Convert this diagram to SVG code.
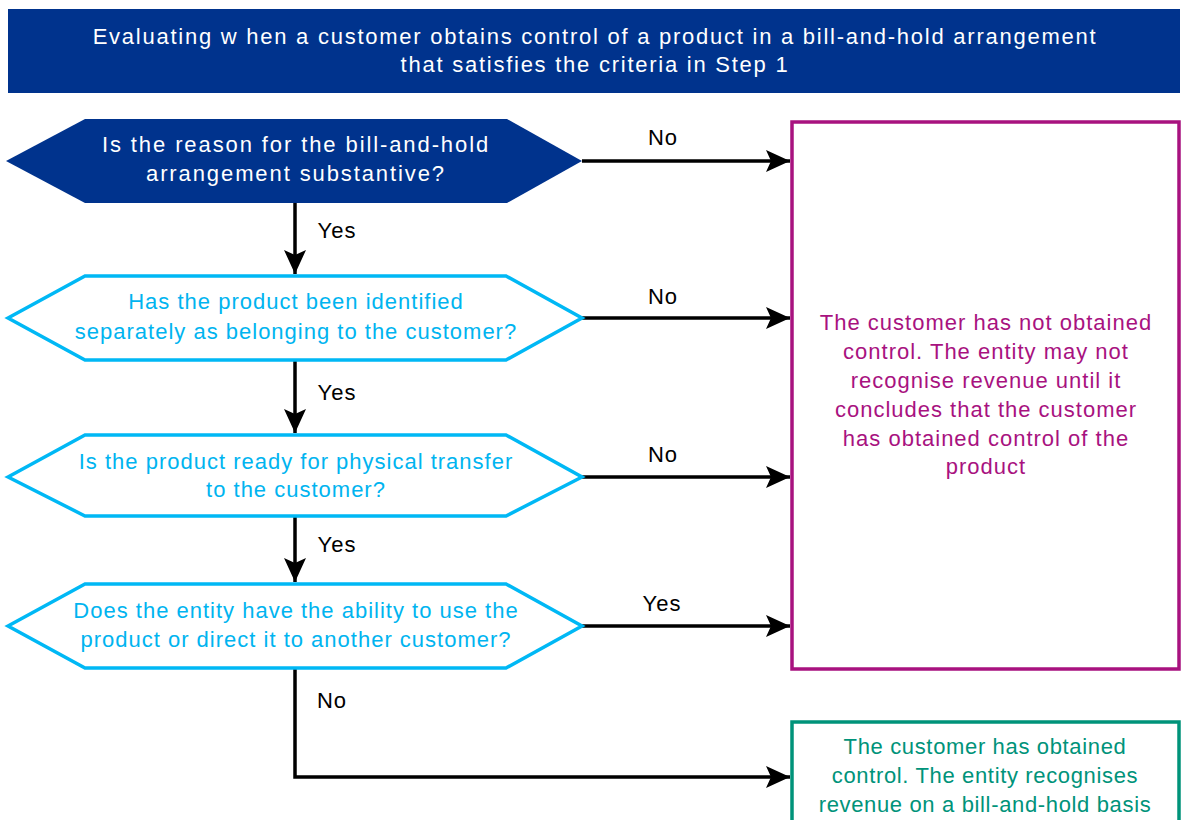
<svg xmlns="http://www.w3.org/2000/svg" width="1182" height="820" viewBox="0 0 1182 820">
<defs>
<style>
text{font-family:"Liberation Sans",Arial,sans-serif;font-size:22px;letter-spacing:1px;text-anchor:middle}
.t{letter-spacing:1.75px}
.w{fill:#ffffff}
.q1{letter-spacing:1.9px}
.c{fill:#00B4F0}
.m{fill:#A8127F}
.g{fill:#00937A;letter-spacing:0.65px}
.k{fill:#000000}
.hex{fill:#ffffff;stroke:#00B8F5;stroke-width:3.5}
.line{fill:none;stroke:#000;stroke-width:3.5}
</style>
<marker id="ah" viewBox="0 0 24 22" refX="24" refY="11" markerWidth="24" markerHeight="22" markerUnits="userSpaceOnUse" orient="auto">
<path d="M0,0 L24,11 L0,22 L5,11 Z" fill="#000"/>
</marker>
</defs>
<rect width="1182" height="820" fill="#ffffff"/>
<g id="title">
<rect x="8" y="9" width="1172" height="84" fill="#00338D"/>
<text class="w t" x="595" y="44">Evaluating w hen a customer obtains control of a product in a bill-and-hold arrangement</text>
<text class="w t" x="595" y="72">that satisfies the criteria in Step 1</text>
</g>
<g id="connectors">
<path class="line" d="M582,161 H790" marker-end="url(#ah)"/>
<path class="line" d="M582,318 H790" marker-end="url(#ah)"/>
<path class="line" d="M582,477 H790" marker-end="url(#ah)"/>
<path class="line" d="M582,626 H790" marker-end="url(#ah)"/>
<path class="line" d="M295,203 V274" marker-end="url(#ah)"/>
<path class="line" d="M295,360 V433" marker-end="url(#ah)"/>
<path class="line" d="M295,516 V582" marker-end="url(#ah)"/>
<path class="line" d="M295,668 V777 H790" marker-end="url(#ah)"/>
<text class="k" x="663" y="145">No</text>
<text class="k" x="663" y="304">No</text>
<text class="k" x="663" y="462">No</text>
<text class="k" x="662" y="611">Yes</text>
<text class="k" x="337" y="238">Yes</text>
<text class="k" x="337" y="400">Yes</text>
<text class="k" x="337" y="552">Yes</text>
<text class="k" x="332" y="708">No</text>
</g>
<g id="q1">
<polygon points="6,161 85,119 507,119 582,161 507,203 85,203" fill="#00338D"/>
<text class="w q1" x="296" y="152">Is the reason for the bill-and-hold</text>
<text class="w q1" x="296" y="181">arrangement substantive?</text>
</g>
<g id="q2">
<polygon class="hex" points="8,318 85,276 506,276 582,318 506,360 85,360"/>
<text class="c" x="296" y="309">Has the product been identified</text>
<text class="c" x="296" y="339">separately as belonging to the customer?</text>
</g>
<g id="q3">
<polygon class="hex" points="8,477 85,435 506,435 582,477 506,516 85,516"/>
<text class="c" x="296" y="469">Is the product ready for physical transfer</text>
<text class="c" x="296" y="497">to the customer?</text>
</g>
<g id="q4">
<polygon class="hex" points="8,626 85,584 506,584 582,626 506,668 85,668"/>
<text class="c" x="296" y="618">Does the entity have the ability to use the</text>
<text class="c" x="296" y="647">product or direct it to another customer?</text>
</g>
<g id="not-obtained">
<rect x="792" y="122" width="387" height="547" fill="#ffffff" stroke="#A8127F" stroke-width="3.5"/>
<text class="m" x="986" y="330">The customer has not obtained</text>
<text class="m" x="986" y="359">control. The entity may not</text>
<text class="m" x="986" y="388">recognise revenue until it</text>
<text class="m" x="986" y="417">concludes that the customer</text>
<text class="m" x="986" y="446">has obtained control of the</text>
<text class="m" x="986" y="474">product</text>
</g>
<g id="obtained">
<rect x="792" y="722" width="387" height="110" fill="#ffffff" stroke="#00937A" stroke-width="3.5"/>
<text class="g" x="985" y="754">The customer has obtained</text>
<text class="g" x="985" y="783">control. The entity recognises</text>
<text class="g" x="985" y="812">revenue on a bill-and-hold basis</text>
</g>
</svg>
